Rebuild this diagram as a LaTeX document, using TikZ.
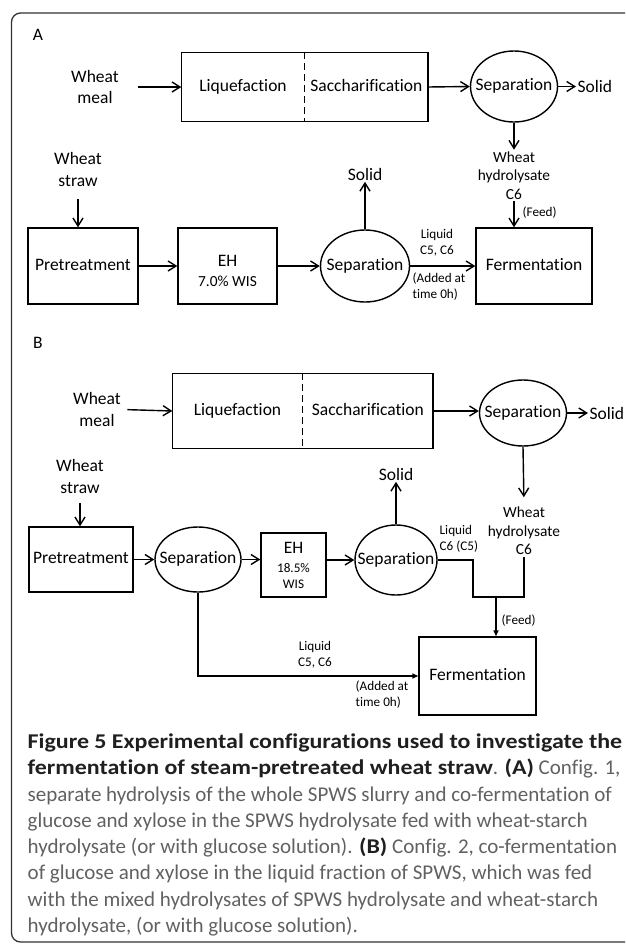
\documentclass[tikz,border=0pt]{standalone}
\usepackage{fontspec}
\setmainfont{Carlito}[Ligatures={NoCommon,NoContextual}, BoldFeatures={FakeStretch=1.14}]
\usetikzlibrary{positioning, shapes.geometric, arrows.meta}

\newcommand{\labsize}{\fontsize{17.5}{21.5}\selectfont}
\newcommand{\hydsize}{\fontsize{15.4}{18.7}\selectfont}
\newcommand{\notesize}{\fontsize{13.2}{16}\selectfont}
\newcommand{\capsize}{\fontsize{21}{26.3}\selectfont}
\newcommand{\capbf}[1]{{\color{black!88}\bfseries #1}}

\tikzset{
  box/.style = {rectangle, draw, inner sep=0pt, text height=12pt, text depth=4pt, font=\labsize},
  ehbox/.style = {rectangle, draw, inner sep=0pt, align=center},
  half/.style = {rectangle, inner sep=0pt, text height=12pt, text depth=4pt, font=\labsize},
  seplbl/.style = {inner sep=0pt, text height=12pt, text depth=4pt, font=\labsize},
  sepnode/.style = {ellipse, draw, inner sep=0pt, label={[seplbl]center:Separation}},
  lbl/.style = {align=center, inner sep=1pt, font=\labsize},
  hyd/.style = {align=center, inner sep=1pt, font=\hydsize},
  smalltxt/.style = {align=center, inner sep=1pt, font=\notesize},
  flow/.style = {-{Straight Barb[length=8pt,width=10pt]}},
  fd/.style = {-{Triangle[length=6pt,width=5pt]}}
}

\begin{document}
\begin{tikzpicture}[x=1pt, y=-1pt, line width=1.4pt]
\useasboundingbox (0,0) rectangle (625,945);
\draw[rounded corners=9pt, black!80, line width=1.3pt] (625,13) -- (11.5,13) -- (11.5,942) -- (625,942);

% A
\node[lbl] (labA) at (38,35) {A};
\node[lbl] (mealA) at (95,87) {Wheat\\meal};
\node[half, minimum width=122pt, minimum height=68pt] (liqA) at (243,87) {Liquefaction};
\node[half, minimum width=122pt, minimum height=68pt, right=0pt of liqA] (sacA) {Saccharification};
\draw (liqA.north west) rectangle (sacA.south east);
\draw[dash pattern=on 7pt off 4pt] (liqA.north east) -- (liqA.south east);
\node[sepnode, minimum width=87pt, minimum height=71pt] (sepA1) at (514,86.5) {};
\node[lbl, anchor=west] (solA1) at (576,86.5) {Solid};
\node[hyd] (hydA) at (514,175.5) {Wheat\\hydrolysate\\C6};
\node[smalltxt, anchor=west] (feedA) at (521,213) {(Feed)};
\node[box, minimum width=116pt, minimum height=76pt] (fermA) at (534,266) {Fermentation};

\node[lbl] (strawA) at (78,169.5) {Wheat\\straw};
\node[box, minimum width=110pt, minimum height=76pt] (pretA) at (83,266) {Pretreatment};
\node[ehbox, minimum width=99pt, minimum height=76pt,
  label={[font=\hydsize, align=center, yshift=-5pt]center:{{\labsize EH}\\[1.3pt]7.0\% WIS}}] (ehA) at (227.5,266) {};
\node[sepnode, minimum width=89pt, minimum height=72pt] (sepA2) at (365,266) {};
\node[lbl] (solA2) at (365,174) {Solid};
\node[smalltxt] (liqlA) at (437,243) {Liquid\\C5, C6};
\node[smalltxt, align=left, anchor=west] (addA) at (411,287) {(Added at\\time 0h)};

\draw[flow, shorten <=18pt] (mealA.east) -- (liqA.west);
\draw[flow] (sacA.east) -- (sepA1.west);
\draw[flow] (sepA1.east) -- (solA1.west);
\draw[flow] (sepA1.south) -- (hydA.north);
\draw[flow] (hydA.south) -- (hydA.south |- fermA.north);
\draw[flow, shorten <=11pt] (strawA.south) -- (strawA.south |- pretA.north);
\draw[flow] (pretA.east) -- (ehA.west);
\draw[flow] (ehA.east) -- (sepA2.west);
\draw[flow] (sepA2.north) -- (solA2.south);
\draw[flow] (sepA2.east) -- (fermA.west);

% B
\node[lbl] (labB) at (38,343) {B};
\node[lbl] (mealB) at (97,409.5) {Wheat\\meal};
\node[half, minimum width=129pt, minimum height=74pt] (liqB) at (237.5,411) {Liquefaction};
\node[half, minimum width=129pt, minimum height=74pt, right=0pt of liqB] (sacB) {Saccharification};
\draw (liqB.north west) rectangle (sacB.south east);
\draw[dash pattern=on 7pt off 4pt] (liqB.north east) -- (liqB.south east);
\node[sepnode, minimum width=87pt, minimum height=66pt] (sepB1) at (523,413) {};
\node[lbl, anchor=west] (solB1) at (588,413) {Solid};
\node[hyd] (hydB) at (524,531) {Wheat\\hydrolysate\\C6};

\node[lbl] (strawB) at (80,476.5) {Wheat\\straw};
\node[box, minimum width=104pt, minimum height=65pt] (pretB) at (81,559.5) {Pretreatment};
\node[sepnode, minimum width=86pt, minimum height=65pt] (sepB2) at (198,559.5) {};
\node[ehbox, minimum width=65pt, minimum height=64pt, font=\notesize] (ehB) at (293.5,565) {{\labsize EH}\\[3pt]18.5\%\\WIS};
\node[sepnode, minimum width=82pt, minimum height=70pt] (sepB3) at (396,560) {};
\node[lbl] (solB2) at (396,474) {Solid};
\node[smalltxt, align=left, anchor=west] (liqlB) at (438,538.5) {Liquid\\C6 (C5)};
\node[box, minimum width=117pt, minimum height=78pt] (fermB) at (477.5,676) {Fermentation};
\node[smalltxt] (liqlB2) at (315,655) {Liquid\\C5, C6};
\node[smalltxt, align=left, anchor=west] (addB) at (354,694.5) {(Added at\\time 0h)};
\node[smalltxt, anchor=west] (feedB) at (500,621) {(Feed)};
\coordinate (jl) at (473,597);
\coordinate (jn) at (496,597);
\coordinate (jr) at (524,597);

\draw[flow, shorten <=5pt] (mealB.east) -- (liqB.west);
\draw[flow] (sacB.east) -- (sacB.east -| sepB1.west);
\draw[flow] (sepB1.east) -- (solB1.west);
\draw[flow, shorten >=8pt] (sepB1.south) -- (hydB.north);
\draw[flow, shorten <=8pt] (strawB.south) -- (strawB.south |- pretB.north);
\draw[flow] (pretB.east) -- (sepB2.west);
\draw[flow] (sepB2.east) -- (sepB2.east -| ehB.west);
\draw[flow] (ehB.east |- sepB3.west) -- (sepB3.west);
\draw[flow] (sepB3.north) -- (solB2.south);
\draw (sepB3.east) -| (jl) -- (jr) -- (hydB.south);
\draw[fd] (jn) -- (jn |- fermB.north);
\draw[fd] (sepB2.south) |- (fermB.west);

% caption
\node[anchor=north west, inner sep=0pt, align=left, font=\capsize, text=black!62] (cap) at (27,733) {%
\capbf{Figure 5 Experimental configurations used to investigate the}\\
\capbf{fermentation of steam-pretreated wheat straw}. \capbf{(A)} Config. 1,\\
separate hydrolysis of the whole SPWS slurry and co-fermentation of\\
glucose and xylose in the SPWS hydrolysate fed with wheat-starch\\
hydrolysate (or with glucose solution). \capbf{(B)} Config. 2, co-fermentation\\
of glucose and xylose in the liquid fraction of SPWS, which was fed\\
with the mixed hydrolysates of SPWS hydrolysate and wheat-starch\\
hydrolysate, (or with glucose solution).};
\end{tikzpicture}
\end{document}
